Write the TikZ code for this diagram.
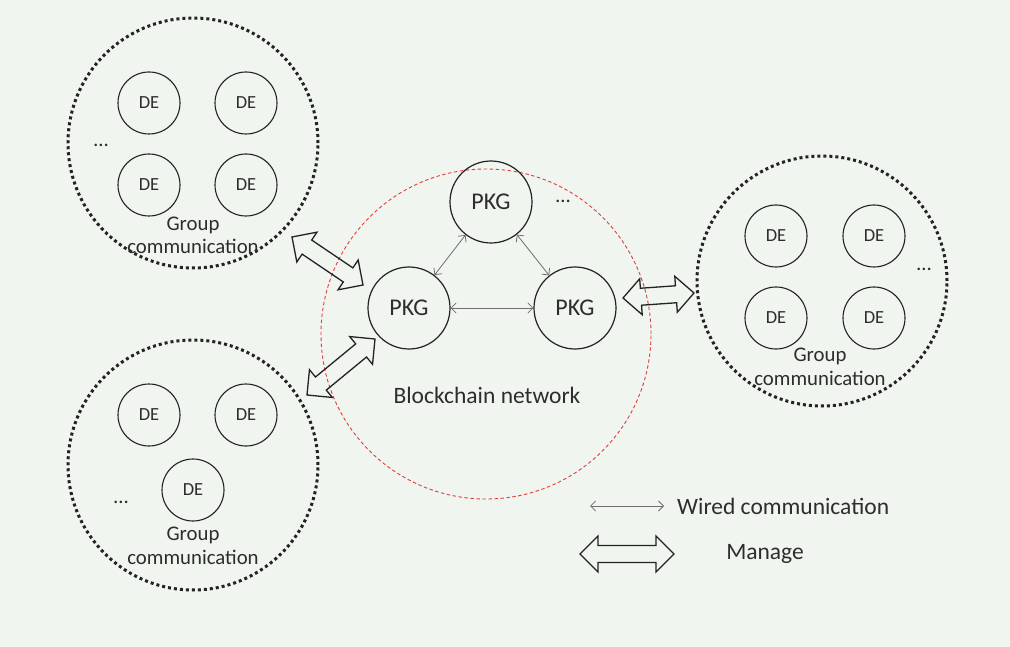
\documentclass[tikz,border=0pt]{standalone}
\usepackage{fontspec}
\setmainfont{Carlito}
\usetikzlibrary{calc,arrows.meta}
\definecolor{bg}{RGB}{240,245,239}
\definecolor{ink}{RGB}{35,35,35}
\definecolor{txt}{RGB}{45,45,45}
\definecolor{redd}{RGB}{228,60,60}
\definecolor{wire}{RGB}{110,110,110}
\newcommand\mgarrow[2]{%
  \path ($(#1)!18pt!(#2)$) coordinate (mgA) ($(#2)!18pt!(#1)$) coordinate (mgB);
  \draw[manage] (#1) -- ($(mgA)!18pt!90:(#2)$) -- ($(mgA)!8.5pt!90:(#2)$)
    -- ($(mgB)!8.5pt!-90:(#1)$) -- ($(mgB)!18pt!-90:(#1)$) -- (#2)
    -- ($(mgB)!18pt!90:(#1)$) -- ($(mgB)!8.5pt!90:(#1)$)
    -- ($(mgA)!8.5pt!-90:(#2)$) -- ($(mgA)!18pt!-90:(#2)$) -- cycle;}
\begin{document}
\begin{tikzpicture}[x=1pt,y=-1pt,
  group/.style={circle, draw=ink, line width=3pt, dash pattern=on 3pt off 3pt, minimum size=250pt, inner sep=0pt},
  de/.style={circle, draw=ink, line width=1.1pt, minimum size=62pt, inner sep=0pt, text=txt, font=\fontsize{18.5}{22}\selectfont},
  pkg/.style={circle, draw=ink, line width=1.2pt, minimum size=82pt, inner sep=0pt, text=txt, font=\fontsize{24}{28}\selectfont},
  chain/.style={circle, draw=redd, line width=0.9pt, dash pattern=on 3.5pt off 2.5pt, minimum size=330pt, inner sep=0pt},
  lbl/.style={text=txt, inner sep=0pt, align=center, font=\fontsize{20.8}{23.5}\selectfont},
  biglbl/.style={text=txt, inner sep=0pt, font=\fontsize{23.5}{27}\selectfont},
  wired/.style={draw=wire, line width=0.8pt, {Straight Barb[length=5pt,width=10pt]}-{Straight Barb[length=5pt,width=10pt]}},
  manage/.style={draw=ink, line width=1.3pt, line join=miter}]
\fill[bg] (0,0) rectangle (1010,647);
\useasboundingbox (0,0) rectangle (1010,647);

% blockchain
\node[chain] (chain) at (486,334) {};
\node[pkg] (pkgT) at (491,202) {PKG};
\node[pkg] (pkgL) at (409,308) {PKG};
\node[pkg] (pkgR) at (575,308) {PKG};
\node[lbl] (dotsP) at (563,201) {\ldots};
\node[biglbl] (bcn) at (487,395) {Blockchain network};
\draw[wired] (pkgT) -- (pkgL);
\draw[wired] (pkgT) -- (pkgR);
\draw[wired] (pkgL) -- (pkgR);

% top-left group
\node[group] (g1) at (193,143) {};
\node[de] (d11) at (149,103) {DE};
\node[de] (d12) at (246,103) {DE};
\node[de] (d13) at (149,185) {DE};
\node[de] (d14) at (246,185) {DE};
\node[lbl] (dots1) at (101,145) {\ldots};
\node[lbl] (gc1) at (193,235.5) {Group\\communication};

% bottom-left group
\node[group] (g2) at (193,465) {};
\node[de] (d21) at (149,415) {DE};
\node[de] (d22) at (246,415) {DE};
\node[de] (d23) at (193,490) {DE};
\node[lbl] (dots2) at (121,502) {\ldots};
\node[lbl] (gc2) at (193,546) {Group\\communication};

% right group
\node[group] (g3) at (822,281) {};
\node[de] (d31) at (776,236) {DE};
\node[de] (d32) at (874,236) {DE};
\node[de] (d33) at (776,318) {DE};
\node[de] (d34) at (874,318) {DE};
\node[lbl] (dots3) at (924,269) {\ldots};
\node[lbl] (gc3) at (820,367) {Group\\communication};

% manage arrows
\coordinate (m1a) at (292,237); \coordinate (m1b) at (363,285);
\coordinate (m2a) at (307,395); \coordinate (m2b) at (375,339);
\coordinate (m3a) at (623,298); \coordinate (m3b) at (694,293);
\mgarrow{m1a}{m1b}
\mgarrow{m2a}{m2b}
\mgarrow{m3a}{m3b}

% legend
\coordinate (lw1) at (590,506); \coordinate (lw2) at (664,506);
\draw[wired] (lw1) -- (lw2);
\node[biglbl, anchor=west] (lwt) at (677,506) {Wired communication};
\coordinate (lm1) at (580,554); \coordinate (lm2) at (674,554);
\mgarrow{lm1}{lm2}
\node[biglbl] (lmt) at (765,554) {Manage};
\end{tikzpicture}
\end{document}
